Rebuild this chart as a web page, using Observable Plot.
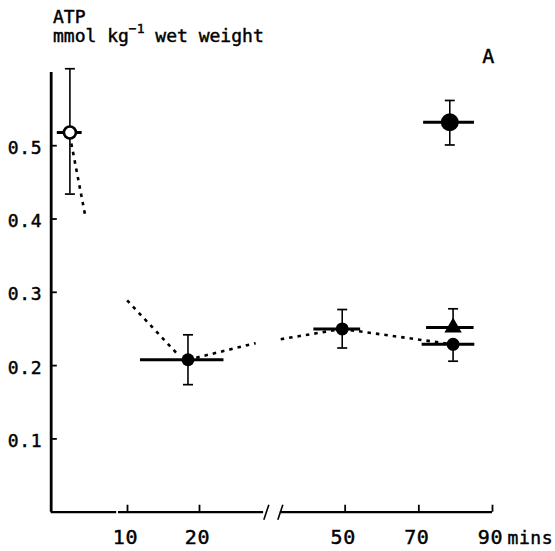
<!DOCTYPE html>
<html><head><meta charset="utf-8">
<script src="https://cdn.jsdelivr.net/npm/d3@7"></script>
<script src="https://cdn.jsdelivr.net/npm/@observablehq/plot@0.6"></script>
<style>
body{margin:0;background:#fff;}
#wrap{position:relative;width:555px;height:551px;}
#title{position:absolute;left:53px;top:7px;z-index:1;font-family:"DejaVu Sans Mono",monospace;font-size:18px;line-height:19px;color:#000;white-space:nowrap;-webkit-text-stroke:0.45px #000;}
#title sup{font-size:13px;line-height:0;vertical-align:9px;}
svg text{letter-spacing:0.6px;stroke:#000;stroke-width:0.45px;}
</style></head><body>
<div id="wrap"><div id="title">ATP<br>mmol kg<sup>−1</sup> wet weight</div></div>
<script>
// ---- data (time in minutes, ATP in mmol/kg wet weight) ----
const pointNames  = ["rest", "20 min", "50 min", "80 min", "80 min (triangle)", "80 min (large)"];
const pointKinds  = ["open", "filled", "filled", "filled", "triangle", "large"];
const pointTimes  = [2, 18.4, 49.2, 79.3, 79.3, 78.4];
const pointValues = [0.518, 0.208, 0.250, 0.229, 0.252, 0.532];
const errLow      = [0.434, 0.174, 0.224, 0.206, null, 0.501];
const errHigh     = [0.605, 0.242, 0.2765, null, 0.2775, 0.5617];
const timeLow     = [0.25, 11.8, 41.5, 70.9, 72.1, 71.3];
const timeHigh    = [3.7, 23.4, 54.2, 85.2, 85.0, 85.1];

// dotted trend pieces
const trendPiece = [1, 1, 2, 2, 3, 3, 4, 4, 5, 5];
const trendTime  = [2.2, 4.1, 9.95, 17.2, 18.4, 27.8, 32.5, 49.2, 49.2, 79.3];
const trendValue = [0.503, 0.406, 0.289, 0.213, 0.208, 0.2306, 0.236, 0.25, 0.25, 0.229];

// axes
const xTicks = [10, 20, 50, 70, 90];
const xTickLabels = ["10", "20", "50", "70", "90"];
const yTicks = [0.1, 0.2, 0.3, 0.4, 0.5];
const yTickLabels = ["0.1", "0.2", "0.3", "0.4", "0.5"];
const xAxisStart = [-0.6, 8.75, 32.4];
const xAxisEnd   = [8.5, 28.9, 90];
const axisBreaks = [30.5];
const yAxisAt = -0.6;

// ---- build ----
const idx = pointNames.map((_, i) => i);
const caps = [];
idx.forEach(i => {
  if (errLow[i] != null) caps.push({t: pointTimes[i], v: errLow[i]});
  if (errHigh[i] != null) caps.push({t: pointTimes[i], v: errHigh[i]});
});
const trend = trendPiece.map((p, i) => ({p, t: trendTime[i], v: trendValue[i]}));
const capSymbol = {draw(ctx, size){ const w = Math.sqrt(size / Math.PI); ctx.moveTo(-w, 0); ctx.lineTo(w, 0); }};
const breakSymbol = {draw(ctx){ for (const o of [-7, 7]) { ctx.moveTo(o - 2.5, 7.5); ctx.lineTo(o + 2.5, -7.5); } }};
const of = k => idx.filter(i => pointKinds[i] === k);

const chart = Plot.plot({
  width: 555, height: 551,
  marginLeft: 51, marginRight: 63, marginTop: 72, marginBottom: 39,
  x: {type: "linear", domain: [0, 30, 90], range: [55, 271, 492], axis: null},
  y: {domain: [0, 0.6], range: [511.7, 71.9], axis: null},
  style: {fontFamily: "DejaVu Sans Mono, monospace", background: "white", overflow: "visible", color: "black"},
  marks: [
    // y axis
    Plot.ruleX([yAxisAt], {x: d => d, y1: 0, y2: 0.6, strokeWidth: 2.8}),
    Plot.ruleY(yTicks, {y: d => d, x1: () => yAxisAt, x2: () => yAxisAt + 0.85, strokeWidth: 1.8}),
    Plot.text(yTicks, {x: () => yAxisAt, y: d => d, text: (d, i) => yTickLabels[i], textAnchor: "end", lineAnchor: "bottom", dx: -9, dy: 8, fontSize: 18}),
    // x axis
    Plot.ruleY(xAxisStart, {y: () => 0, x1: d => d, x2: (d, i) => xAxisEnd[i], strokeWidth: 2.2}),
    Plot.ruleX(xTicks, {x: d => d, y1: 0, y2: 0.0095, strokeWidth: 1.8}),
    Plot.dot(axisBreaks, {x: d => d, y: () => 0, symbol: breakSymbol, r: 1, fill: "none", stroke: "black", strokeWidth: 1.6}),
    Plot.text(xTicks, {x: d => d, y: () => 0, text: (d, i) => xTickLabels[i], textAnchor: "middle", lineAnchor: "bottom", dx: -2, dy: 32, fontSize: 20}),
    Plot.text(["mins"], {x: () => 90, y: () => 0, text: d => d, textAnchor: "start", lineAnchor: "bottom", dx: 15, dy: 32, fontSize: 18}),
    Plot.text(["A"], {frameAnchor: "top-right", text: d => d, textAnchor: "middle", lineAnchor: "bottom", dx: -4, dy: -10, fontSize: 20}),
    // dotted trend
    Plot.line(trend, {x: "t", y: "v", z: "p", stroke: "black", strokeWidth: 2.6, strokeDasharray: "3.5,5", strokeLinecap: "butt"}),
    // error bars
    Plot.ruleX(idx, {x: i => pointTimes[i], y1: i => errLow[i] ?? pointValues[i], y2: i => errHigh[i] ?? pointValues[i], strokeWidth: 1.6}),
    Plot.dot(caps, {x: "t", y: "v", symbol: capSymbol, r: 5, fill: "none", stroke: "black", strokeWidth: 1.7}),
    Plot.ruleY(idx, {y: i => pointValues[i], x1: i => timeLow[i], x2: i => timeHigh[i], strokeWidth: 3}),
    // points
    Plot.dot(of("open"), {x: i => pointTimes[i], y: i => pointValues[i], r: 6, fill: "white", stroke: "black", strokeWidth: 2.6}),
    Plot.dot(of("filled"), {x: i => pointTimes[i], y: i => pointValues[i], r: 6.5, fill: "black"}),
    Plot.dot(of("triangle"), {x: i => pointTimes[i], y: i => pointValues[i], symbol: "triangle", r: 6.45, fill: "black"}),
    Plot.dot(of("large"), {x: i => pointTimes[i], y: i => pointValues[i], r: 9, fill: "black"})
  ]
});
document.getElementById("wrap").appendChild(chart);
</script>
</body></html>
